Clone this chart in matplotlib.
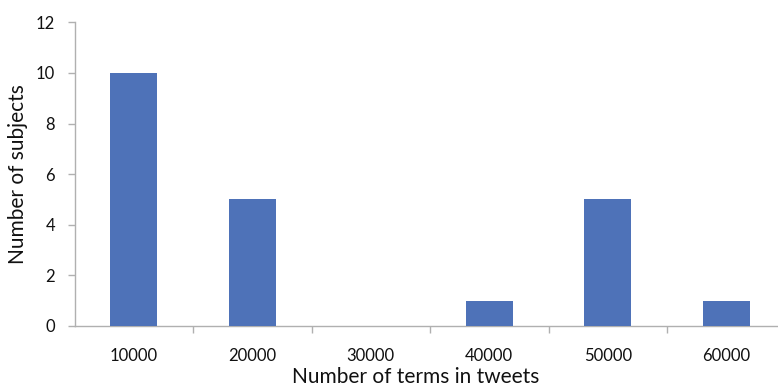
import matplotlib
matplotlib.use("Agg")
import matplotlib.pyplot as plt
import numpy as np

# term-count bins and how many subjects fall in each
bins = ["10000", "20000", "30000", "40000", "50000", "60000"]
subjects = [10, 5, 0, 1, 5, 1]

plt.rcParams["font.family"] = ["Lato", "DejaVu Sans"]

fig = plt.figure(figsize=(7.78, 3.91), dpi=100)
# plot area runs slightly past the right edge of the figure
ax = fig.add_axes([74.5 / 778, 65 / 391, 711 / 778, 303.7 / 391])

x = np.arange(len(bins))
ax.bar(x, subjects, width=0.4, color="#4E72B8", zorder=3)

ax.set_xlim(-0.5, len(bins) - 0.5)
ax.set_ylim(0, 12)
ax.set_yticks(np.arange(0, 13, 2))

ax.set_xticks(x)
ax.set_xticklabels(bins)
ax.set_xticks(np.arange(0.5, len(bins) - 0.5, 1), minor=True)

gray = "#B0B0B0"
for side in ["top", "right"]:
    ax.spines[side].set_visible(False)
ax.spines["left"].set_color(gray)
ax.spines["bottom"].set_color(gray)
ax.spines["left"].set_linewidth(1.0)
ax.spines["bottom"].set_linewidth(1.0)

ax.tick_params(axis="y", length=5, width=1.0, color=gray, labelsize=12,
               pad=9, labelcolor="#111111")
ax.tick_params(axis="x", which="major", length=0, labelsize=12, pad=16,
               labelcolor="#111111")
ax.tick_params(axis="x", which="minor", length=5, width=1.0, color=gray)

ax.set_xlabel("Number of terms in tweets", fontsize=15, color="#111111")
ax.xaxis.set_label_coords(0.48, -0.135)
ax.set_ylabel("Number of subjects", fontsize=15, color="#111111")
ax.yaxis.set_label_coords(-0.066, 0.5)

fig.savefig("out.png", dpi=100)
